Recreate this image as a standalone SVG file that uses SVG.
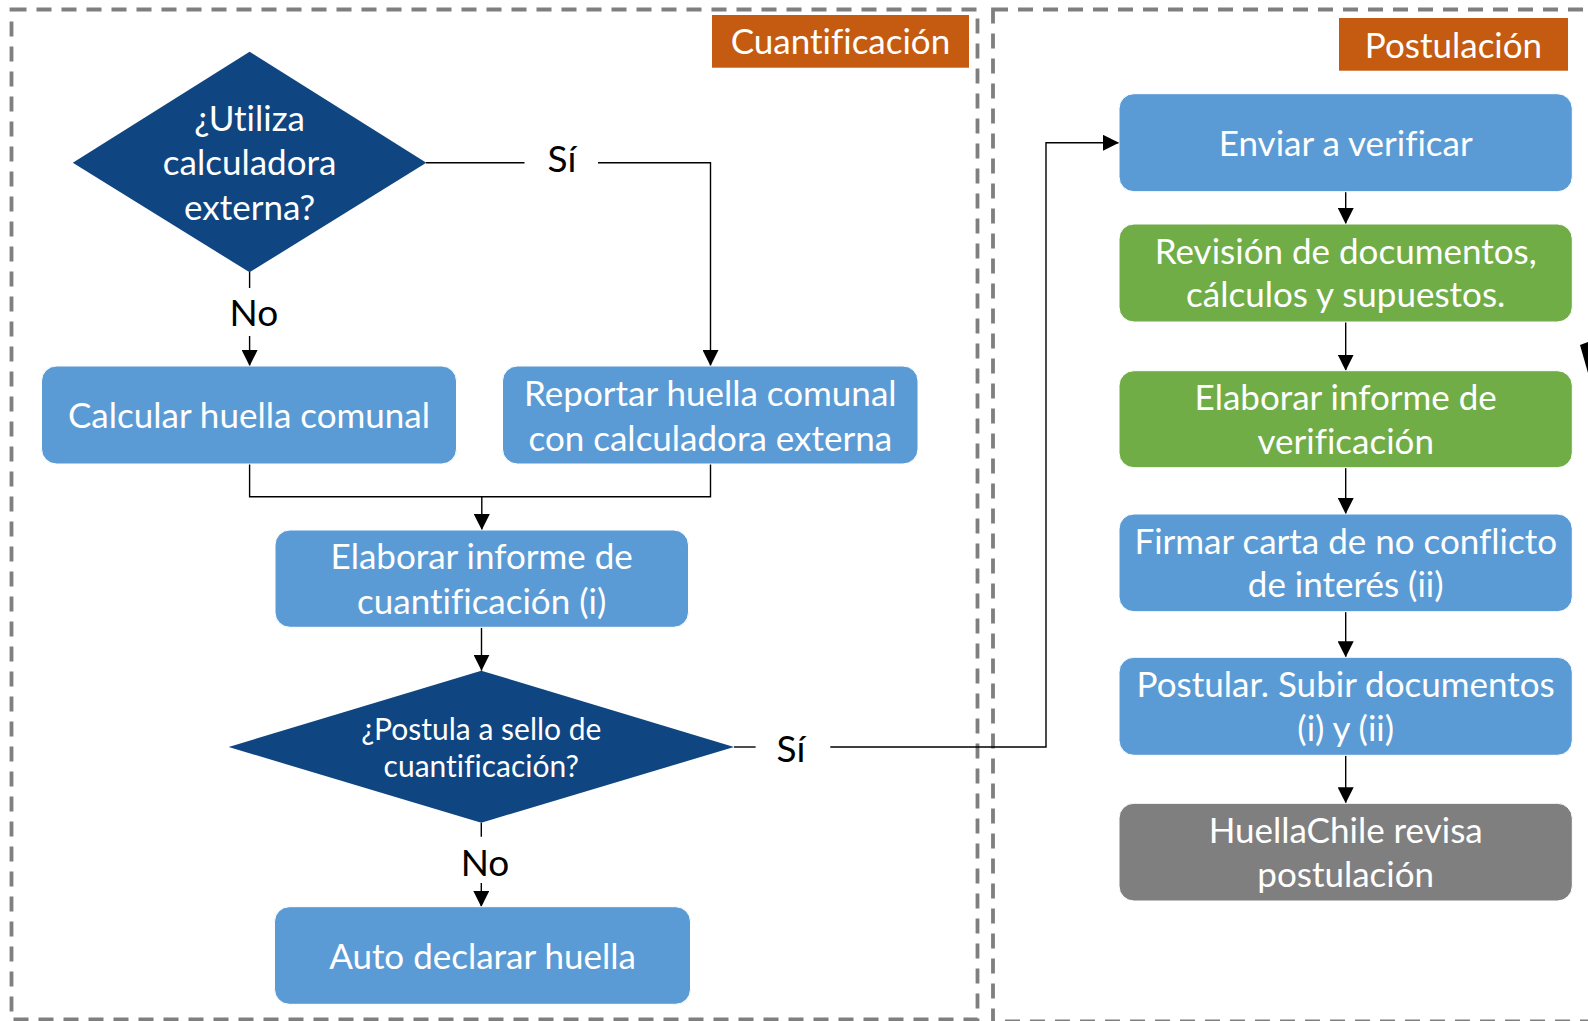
<svg xmlns="http://www.w3.org/2000/svg" width="1588" height="1021" viewBox="0 0 1588 1021">
<style>
.frame{fill:none;stroke:#7F7F7F;stroke-width:3.8;stroke-dasharray:15 10}
.box{stroke:#FFFFFF;stroke-width:1}
.blue{fill:#5B9BD5}
.green{fill:#70AD47}
.gray{fill:#7F7F7F}
.dia{fill:#0F4581}
.tag{fill:#C55A11}
.t{font-family:Lato,"Open Sans","Liberation Sans",sans-serif;fill:#FFFFFF;text-anchor:middle;font-size:35px;font-variant-ligatures:none}
.ts{font-size:30px}
.lbl{font-family:Lato,"Open Sans","Liberation Sans",sans-serif;fill:#000000;text-anchor:middle;font-size:37px}
.c{fill:none;stroke:#000000;stroke-width:1.4}
</style>
<defs>
<marker id="ah" markerUnits="userSpaceOnUse" markerWidth="16" markerHeight="16" refX="16" refY="8" orient="auto">
<path d="M0,0 L16,8 L0,16 z" fill="#000000"/>
</marker>
</defs>
<rect width="1588" height="1021" fill="#FFFFFF"/>
<g id="frames">
<rect class="frame" x="11.5" y="9.5" width="966" height="1010"/>
<rect class="frame" x="993" y="9.5" width="620" height="1012"/>
</g>
<g id="connectors">
<polyline class="c" points="426,162.7 524.5,162.7"/>
<polyline class="c" points="598,162.7 710.5,162.7 710.5,366" marker-end="url(#ah)"/>
<polyline class="c" points="249.6,272 249.6,288"/>
<polyline class="c" points="249.6,336 249.6,366" marker-end="url(#ah)"/>
<polyline class="c" points="249.6,464 249.6,496.7 710.5,496.7 710.5,464"/>
<polyline class="c" points="481.8,496.7 481.8,530" marker-end="url(#ah)"/>
<polyline class="c" points="481.5,627.3 481.5,670.7" marker-end="url(#ah)"/>
<polyline class="c" points="734,747 755.6,747"/>
<polyline class="c" points="830.3,747 1046,747 1046,142.8 1119,142.8" marker-end="url(#ah)"/>
<polyline class="c" points="481.3,822.7 481.3,836.7"/>
<polyline class="c" points="481.3,883 481.3,907" marker-end="url(#ah)"/>
<polyline class="c" points="1345.7,191.7 1345.7,224" marker-end="url(#ah)"/>
<polyline class="c" points="1345.7,322 1345.7,370.7" marker-end="url(#ah)"/>
<polyline class="c" points="1345.7,467.7 1345.7,514" marker-end="url(#ah)"/>
<polyline class="c" points="1345.7,611.7 1345.7,657.3" marker-end="url(#ah)"/>
<polyline class="c" points="1345.7,755.3 1345.7,803.3" marker-end="url(#ah)"/>
<text class="lbl" x="562" y="172">Sí</text>
<text class="lbl" x="253.8" y="325.5">No</text>
<text class="lbl" x="791" y="762">Sí</text>
<text class="lbl" x="485" y="875.5">No</text>
<polygon points="1580,345 1588,342 1588,373" fill="#000000"/>
</g>
<g id="tag-cuantificacion">
<rect class="tag" x="712" y="15" width="257" height="52.7"/>
<text class="t" x="840.5" y="54">Cuantificación</text>
</g>
<g id="tag-postulacion">
<rect class="tag" x="1339" y="18" width="229" height="52.7"/>
<text class="t" x="1453.5" y="58">Postulación</text>
</g>
<g id="d-utiliza">
<polygon class="dia" points="249.6,51.7 426.3,162.7 249.6,272.3 72.8,162.7"/>
<text class="t" x="249.6" y="130.7">¿Utiliza</text>
<text class="t" x="249.6" y="175.2">calculadora</text>
<text class="t" x="249.6" y="219.7">externa?</text>
</g>
<g id="n-calcular">
<rect class="box blue" x="41.5" y="366" width="415" height="98" rx="15"/>
<text class="t" x="249" y="428">Calcular huella comunal</text>
</g>
<g id="n-reportar">
<rect class="box blue" x="502.5" y="366" width="415.5" height="98" rx="15"/>
<text class="t" x="710.3" y="405.7">Reportar huella comunal</text>
<text class="t" x="710.3" y="450.7">con calculadora externa</text>
</g>
<g id="n-elaborar-cuant">
<rect class="box blue" x="275" y="530" width="413.5" height="97.3" rx="15"/>
<text class="t" x="481.7" y="569">Elaborar informe de</text>
<text class="t" x="481.7" y="614">cuantificación (i)</text>
</g>
<g id="d-postula">
<polygon class="dia" points="481.3,670.7 734,747 481.3,822.7 228.7,747"/>
<text class="t ts" x="481.3" y="740">¿Postula a sello de</text>
<text class="t ts" x="481.3" y="776.7">cuantificación?</text>
</g>
<g id="n-auto">
<rect class="box blue" x="274.5" y="906.7" width="416" height="97.6" rx="15"/>
<text class="t" x="482.5" y="969">Auto declarar huella</text>
</g>
<g id="n-enviar">
<rect class="box blue" x="1119" y="93.7" width="453.3" height="98" rx="15"/>
<text class="t" x="1345.7" y="155.7">Enviar a verificar</text>
</g>
<g id="n-revision">
<rect class="box green" x="1119" y="224" width="453.3" height="98" rx="15"/>
<text class="t" x="1345.7" y="264">Revisión de documentos,</text>
<text class="t" x="1345.7" y="307.4">cálculos y supuestos.</text>
</g>
<g id="n-elaborar-verif">
<rect class="box green" x="1119" y="370.7" width="453.3" height="97" rx="15"/>
<text class="t" x="1345.7" y="410.2">Elaborar informe de</text>
<text class="t" x="1345.7" y="453.5">verificación</text>
</g>
<g id="n-firmar">
<rect class="box blue" x="1119" y="514" width="453.3" height="97.7" rx="15"/>
<text class="t" x="1345.7" y="553.7">Firmar carta de no conflicto</text>
<text class="t" x="1345.7" y="597">de interés (ii)</text>
</g>
<g id="n-postular">
<rect class="box blue" x="1119" y="657.3" width="453.3" height="98" rx="15"/>
<text class="t" x="1345.7" y="697.4">Postular. Subir documentos</text>
<text class="t" x="1345.7" y="740.7">(i) y (ii)</text>
</g>
<g id="n-huellachile">
<rect class="box gray" x="1119" y="803.3" width="453.3" height="97.7" rx="15"/>
<text class="t" x="1345.7" y="843.4">HuellaChile revisa</text>
<text class="t" x="1345.7" y="886.9">postulación</text>
</g>
</svg>
